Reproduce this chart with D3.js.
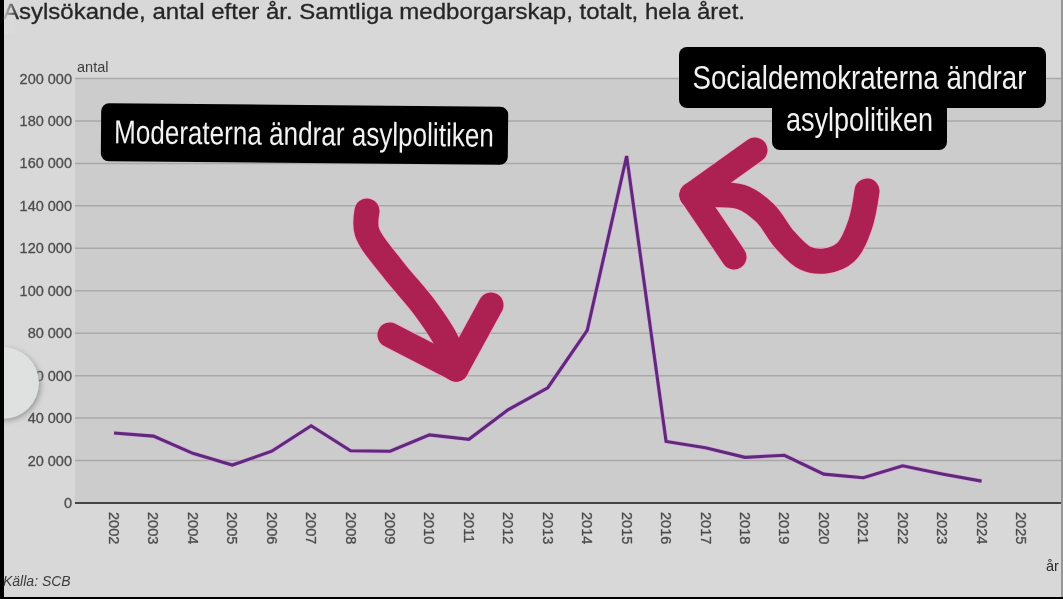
<!DOCTYPE html>
<html lang="sv">
<head>
<meta charset="utf-8">
<title>Asylsökande</title>
<script src="https://cdn.jsdelivr.net/npm/d3@7/dist/d3.min.js"></script>
<style>
  html, body { margin: 0; padding: 0; background: #000; overflow: hidden; }
  svg { display: block; filter: blur(0.45px); }
  text { font-family: "Liberation Sans", Arial, sans-serif; }
  .tick-label { font-size: 14.5px; fill: #4c4c4c; stroke: #4c4c4c; stroke-width: 0.3px; }
  .note { font-family: "Liberation Sans Narrow", "Liberation Sans", sans-serif; font-size: 33px; fill: #f2f2f2; }
</style>
</head>
<body>
<div id="chart"></div>
<script>

var years = [2002, 2003, 2004, 2005, 2006, 2007, 2008, 2009, 2010, 2011, 2012,
             2013, 2014, 2015, 2016, 2017, 2018, 2019, 2020, 2021, 2022, 2023, 2024];
var applicants = [33000, 31500, 23400, 17900, 24400, 36400, 24600, 24400, 32100, 30000, 44000,
                  54300, 81300, 163500, 29000, 26000, 21500, 22500, 13600, 11900, 17500, 13700, 10300];
var yearLabels = d3.range(2002, 2026);
var valueTicks = d3.range(0, 200001, 20000);

var width = 1063;
var height = 599;

var svg = d3.select("#chart").append("svg")
    .attr("width", width)
    .attr("height", height);

var x = d3.scaleLinear()
    .domain([2002, 2025])
    .range([114, 1021]);
var y = d3.scaleLinear()
    .domain([0, 200000])
    .range([503, 78.5]);

var defs = svg.append("defs");
var fade = defs.append("linearGradient").attr("id", "fade");
fade.append("stop").attr("offset", "0").attr("stop-color", "#dcdcdc").attr("stop-opacity", 0.85);
fade.append("stop").attr("offset", "1").attr("stop-color", "#dcdcdc").attr("stop-opacity", 0);
defs.append("filter").attr("id", "soft").append("feGaussianBlur").attr("stdDeviation", 3);

svg.append("rect").attr("width", width).attr("height", height).attr("fill", "#000");
svg.append("rect").attr("x", 4).attr("width", width - 4).attr("height", 597).attr("fill", "#d8d8d8");
svg.append("rect").attr("x", 75).attr("y", y(200000)).attr("width", 986).attr("height", y(0) - y(200000))
    .attr("fill", "#cccccc");
svg.append("line").attr("x1", 1062).attr("x2", 1062).attr("y1", 0).attr("y2", 597)
    .attr("stroke", "#808080").attr("stroke-width", 1.5);

// grid
svg.append("g").selectAll("line")
    .data(valueTicks.filter(function (d) { return d > 0; }))
  .join("line")
    .attr("x1", 75).attr("x2", 1061)
    .attr("y1", y).attr("y2", y)
    .attr("stroke", "#a9a9a9")
    .attr("stroke-width", 1.5);

svg.append("line")
    .attr("x1", 75).attr("x2", 1061)
    .attr("y1", y(0)).attr("y2", y(0))
    .attr("stroke", "#454545")
    .attr("stroke-width", 1.8);

svg.append("g").selectAll("text")
    .data(valueTicks)
  .join("text")
    .attr("class", "tick-label")
    .attr("x", 72)
    .attr("y", function (d) { return y(d) + 5; })
    .attr("text-anchor", "end")
    .text(function (d) { return d3.format(",")(d).replace(",", " "); });

svg.append("g").selectAll("text")
    .data(yearLabels)
  .join("text")
    .attr("class", "tick-label")
    .attr("text-anchor", "start")
    .attr("transform", function (d) { return "translate(" + (x(d) - 5) + ",512) rotate(90)"; })
    .text(function (d) { return d; });

svg.append("text").attr("x", 77).attr("y", 72).attr("font-size", 14.5).attr("fill", "#3c3c3c").text("antal");
svg.append("text").attr("x", 1046).attr("y", 571).attr("font-size", 14.5).attr("fill", "#2a2a2a").text("år");
svg.append("text").attr("x", 3).attr("y", 586).attr("font-size", 14).attr("font-style", "italic").attr("fill", "#3c3c3c")
    .text("Källa: SCB");

svg.append("text")
    .attr("x", 3).attr("y", 18.5)
    .attr("font-size", 21.5)
    .attr("fill", "#262626")
    .attr("stroke", "#262626")
    .attr("stroke-width", 0.3)
    .attr("textLength", 742)
    .attr("lengthAdjust", "spacingAndGlyphs")
    .text("Asylsökande, antal efter år. Samtliga medborgarskap, totalt, hela året.");
svg.append("rect").attr("x", 4).attr("y", 0).attr("width", 14).attr("height", 34).attr("fill", "url(#fade)");

// series
var line = d3.line()
    .x(function (d) { return x(d.year); })
    .y(function (d) { return y(d.value); });

var series = years.map(function (d, i) { return { year: d, value: applicants[i] }; });

svg.append("path")
    .datum(series)
    .attr("d", line)
    .attr("fill", "none")
    .attr("stroke", "#d9a6e6")
    .attr("stroke-width", 4.4);
svg.append("path")
    .datum(series)
    .attr("d", line)
    .attr("fill", "none")
    .attr("stroke", "#5f2a78")
    .attr("stroke-width", 3.1);

// scroll handle of the screen recording
svg.append("circle").attr("cx", 5).attr("cy", 385).attr("r", 35).attr("fill", "#8c8c8c")
    .attr("filter", "url(#soft)");
svg.append("circle").attr("cx", 3).attr("cy", 383).attr("r", 36).attr("fill", "#dfe1e1");
svg.append("rect").attr("x", 0).attr("y", 335).attr("width", 4).attr("height", 100).attr("fill", "#000");

// hand drawn arrows
var pen = d3.line().curve(d3.curveCatmullRom);
var arrows = [
  [[367, 211], [367, 232], [392, 268], [425, 308], [447, 342], [456, 369]],
  [[390, 335], [456, 369]],
  [[456, 369], [491, 305]],
  [[755, 150], [692, 195]],
  [[692, 195], [734, 257]],
  [[692, 195], [741, 197], [765, 213], [785, 240], [805, 258], [825, 261], [846, 252], [860, 225], [867, 191]]
];
svg.append("g").selectAll("path")
    .data(arrows)
  .join("path")
    .attr("d", pen)
    .attr("fill", "none")
    .attr("stroke", "#f2a6c4")
    .attr("stroke-width", 26.5)
    .attr("stroke-linecap", "round")
    .attr("stroke-linejoin", "round");
svg.append("g").selectAll("path")
    .data(arrows)
  .join("path")
    .attr("d", pen)
    .attr("fill", "none")
    .attr("stroke", "#ac2152")
    .attr("stroke-width", 25)
    .attr("stroke-linecap", "round")
    .attr("stroke-linejoin", "round");

// squeeze a story label to the measured width of the original
function note(parent, label, left, base, wanted) {
  var t = parent.append("text").attr("class", "note").text(label);
  var sx = wanted / t.node().getComputedTextLength();
  t.attr("transform", "translate(" + left + "," + base + ") scale(" + sx + ",1)");
}

var leftNote = svg.append("g").attr("transform", "rotate(0.5 305 134)");
leftNote.append("rect").attr("x", 101).attr("y", 105).attr("width", 407).attr("height", 58).attr("rx", 8).attr("fill", "#000");
note(leftNote, "Moderaterna ändrar asylpolitiken", 114, 145, 380);

svg.append("rect").attr("x", 679).attr("y", 47).attr("width", 367).attr("height", 61).attr("rx", 8).attr("fill", "#000");
svg.append("rect").attr("x", 772).attr("y", 100).attr("width", 175).attr("height", 50).attr("rx", 8).attr("fill", "#000");

note(svg, "Socialdemokraterna ändrar", 692.5, 89, 334);
note(svg, "asylpolitiken", 786, 130.5, 147);

</script>
</body>
</html>
